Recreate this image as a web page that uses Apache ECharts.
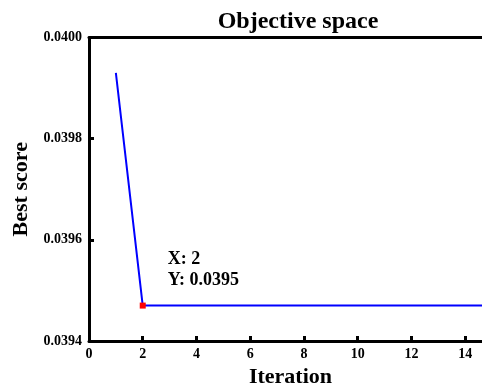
<!DOCTYPE html>
<html>
<head>
<meta charset="utf-8">
<script src="https://cdn.jsdelivr.net/npm/echarts@6/dist/echarts.min.js"></script>
<style>
html,body{margin:0;padding:0;background:#fff;}
#chart{width:482px;height:387px;}
</style>
</head>
<body>
<div id="chart"></div>
<script>
const iterations = [1,2,3,4,5,6,7,8,9,10,11,12,13,14,15];
const bestScore = [0.03993,0.03947,0.03947,0.03947,0.03947,0.03947,0.03947,0.03947,0.03947,0.03947,0.03947,0.03947,0.03947,0.03947,0.03947];
const tipPoint = [2, 0.03947];
const tipText = ['X: 2', 'Y: 0.0395'];
const titleText = 'Objective space';
const xName = 'Iteration';
const yName = 'Best score';

const FONT = '"Liberation Serif", "Times New Roman", serif';
const chart = echarts.init(document.getElementById('chart'), null, {renderer:'canvas'});
chart.setOption({
  backgroundColor:'#fff',
  animation:false,
  title:{
    text:titleText, left:293, top:5, textAlign:'center',
    textStyle:{fontFamily:FONT, fontWeight:'bold', fontSize:24, color:'#000'}
  },
  grid:{left:89, top:37.5, right:-10, bottom:46, show:false, outerBoundsMode:'none', containLabel:false},
  xAxis:[{
    type:'value', min:0, max:15, interval:2, position:'bottom',
    name:xName, nameLocation:'middle', nameGap:23,
    nameTextStyle:{fontFamily:FONT, fontWeight:'bold', fontSize:22, color:'#000'},
    axisLine:{show:true, lineStyle:{color:'#000', width:3}},
    axisTick:{show:true, inside:true, length:5, lineStyle:{color:'#000', width:3}},
    axisLabel:{fontFamily:FONT, fontWeight:'bold', fontSize:14, color:'#000', margin:6,
      formatter:v=> (v%2===0 ? String(v) : '')},
    splitLine:{show:false}
  },{
    type:'value', min:0, max:15, position:'top',
    axisLine:{show:true, onZero:false, lineStyle:{color:'#000', width:3}},
    axisTick:{show:false}, axisLabel:{show:false}, splitLine:{show:false}
  }],
  yAxis:{
    type:'value', min:0.0394, max:0.0400, interval:0.0002,
    name:yName, nameLocation:'middle', nameGap:56,
    nameTextStyle:{fontFamily:FONT, fontWeight:'bold', fontSize:22, color:'#000'},
    axisLine:{show:true, lineStyle:{color:'#000', width:3}},
    axisTick:{show:true, inside:true, length:5, lineStyle:{color:'#000', width:3}},
    axisLabel:{fontFamily:FONT, fontWeight:'bold', fontSize:14, color:'#000', margin:7,
      formatter:v=>v.toFixed(4)},
    splitLine:{show:false}
  },
  series:[
    {
      type:'line', data:iterations.map((x,i)=>[x,bestScore[i]]),
      showSymbol:false, symbol:'none',
      lineStyle:{color:'#0000ff', width:2},
      z:2
    },
    {
      type:'scatter', data:[tipPoint], symbol:'rect', symbolSize:6,
      itemStyle:{color:'#ff0000', opacity:1},
      label:{show:true, position:'right', distance:0, offset:[22,-36],
        formatter:tipText.join('\n'), fontFamily:FONT, fontWeight:'bold', fontSize:18, lineHeight:21, color:'#000', opacity:1, textBorderWidth:0, align:'left'},
      z:3
    }
  ]
});
</script>
</body>
</html>
